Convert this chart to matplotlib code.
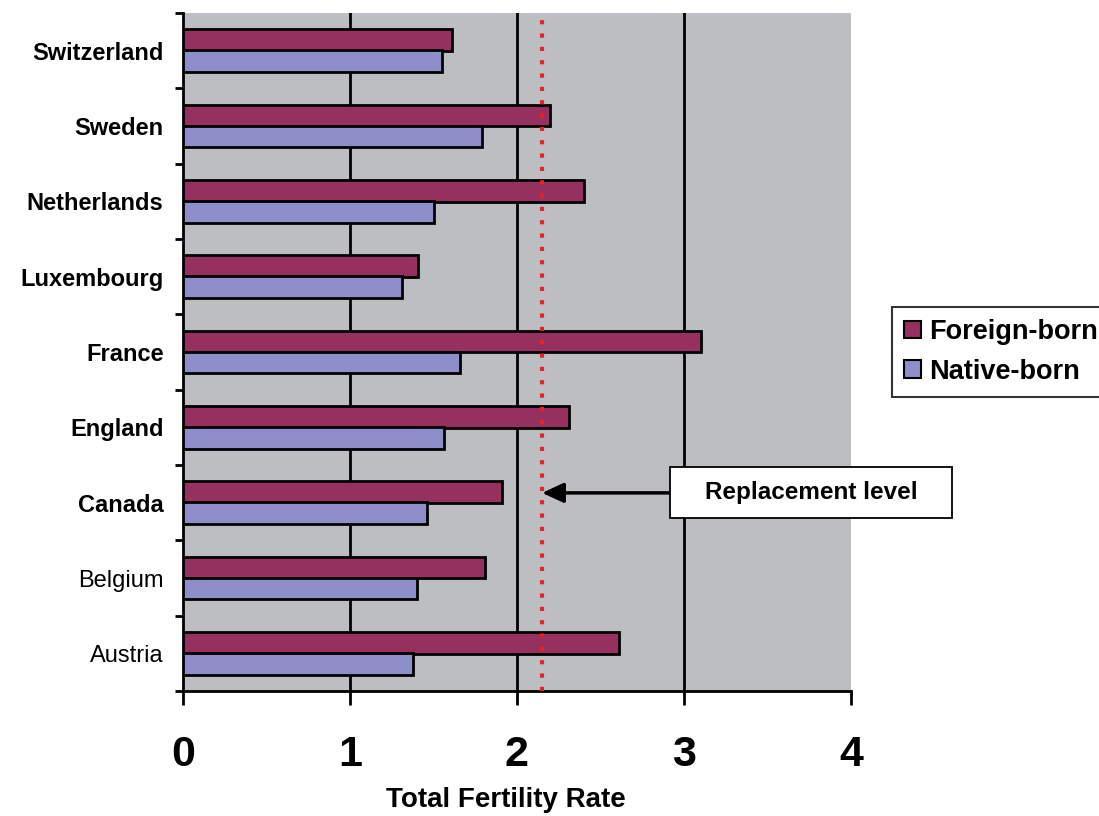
import matplotlib
matplotlib.use("Agg")
import matplotlib.pyplot as plt
from matplotlib.patches import Patch, Rectangle

countries = ["Austria", "Belgium", "Canada", "England", "France",
             "Luxembourg", "Netherlands", "Sweden", "Switzerland"]
foreign_born = [2.61, 1.81, 1.91, 2.31, 3.10, 1.41, 2.40, 2.20, 1.61]
native_born = [1.38, 1.40, 1.46, 1.56, 1.66, 1.31, 1.50, 1.79, 1.55]
bold_labels = [False, False, True, True, True, True, True, True, True]
x_ticks = [0, 1, 2, 3, 4]
replacement_level = 2.15

c_foreign = "#96305F"
c_native = "#8E8ECB"
bg = "#BDBEC2"
W, H = 1099, 816

fig = plt.figure(figsize=(W/100, H/100), dpi=100)
ax = fig.add_axes([183/W, 1-691/H, (851-183)/W, (691-13)/H])
ax.set_facecolor(bg)

ys = list(range(len(countries)))
h = 0.285
off = 0.14
ax.barh([y + off for y in ys], foreign_born, height=h, color=c_foreign,
        edgecolor="black", linewidth=2, zorder=3)
ax.barh([y - off for y in ys], native_born, height=h, color=c_native,
        edgecolor="black", linewidth=2, zorder=3)

for gx in x_ticks[1:-1]:
    ax.axvline(gx, color="black", linewidth=2, zorder=1)

ax.axvline(replacement_level, color="#E8202A", linestyle=(0, (1, 2.2)),
           linewidth=3, zorder=4)

ax.set_xlim(0, 4)
ax.set_ylim(-0.5, len(countries) - 0.5)

for s in ["top", "right"]:
    ax.spines[s].set_visible(False)
ax.spines["left"].set_linewidth(2)
ax.spines["bottom"].set_linewidth(2)

ax.set_xticks(x_ticks)
ax.set_xticklabels([str(t) for t in x_ticks], fontfamily="Liberation Sans",
                   fontweight="bold", fontsize=31)
ax.tick_params(axis="x", length=10, width=2, pad=22, direction="out")

ax.set_yticks(ys)
ax.set_yticklabels(countries, fontsize=17, fontfamily="Liberation Sans")
for lbl, b in zip(ax.get_yticklabels(), bold_labels):
    lbl.set_fontweight("bold" if b else "normal")
ax.tick_params(axis="y", which="major", length=0, pad=14)
ax.set_yticks([y + 0.5 for y in range(-1, len(countries))], minor=True)
ax.tick_params(axis="y", which="minor", length=6, width=2, direction="out")

fig.text(506/W, 1-807/H, "Total Fertility Rate", fontsize=20, fontweight="bold",
         fontfamily="Liberation Sans", ha="center", va="baseline")

# Replacement level annotation
ann_y = 2.13
fig.patches.append(Rectangle((670/W, 1-518/H), (952-670)/W, (518-467)/H,
                             transform=fig.transFigure, facecolor="white",
                             edgecolor="black", linewidth=1.3, zorder=7))
ax.annotate("", xy=(replacement_level, ann_y), xytext=((670-183)/167, ann_y),
            arrowprops=dict(arrowstyle="-|>,head_length=1.3,head_width=0.6",
                            color="black", lw=2.5, shrinkA=0, shrinkB=0),
            zorder=6)
fig.text(811/W, 1-493/H, "Replacement level", fontsize=17.5, fontweight="bold",
         fontfamily="Liberation Sans", ha="center", va="center", zorder=8)

handles = [Patch(facecolor=c_foreign, edgecolor="black", linewidth=1.5, label="Foreign-born"),
           Patch(facecolor=c_native, edgecolor="black", linewidth=1.5, label="Native-born")]
leg = fig.legend(handles=handles, loc="upper left",
                 bbox_to_anchor=(892/W, 1-307/H),
                 prop=dict(family="Liberation Sans", weight="bold", size=19.5),
                 frameon=True, fancybox=False, edgecolor="black",
                 handlelength=0.62, handleheight=0.62, handletextpad=0.3,
                 borderpad=0.45, labelspacing=0.5, borderaxespad=0)
leg.get_frame().set_linewidth(1.5)

fig.savefig("out.png", dpi=100, facecolor="white")
